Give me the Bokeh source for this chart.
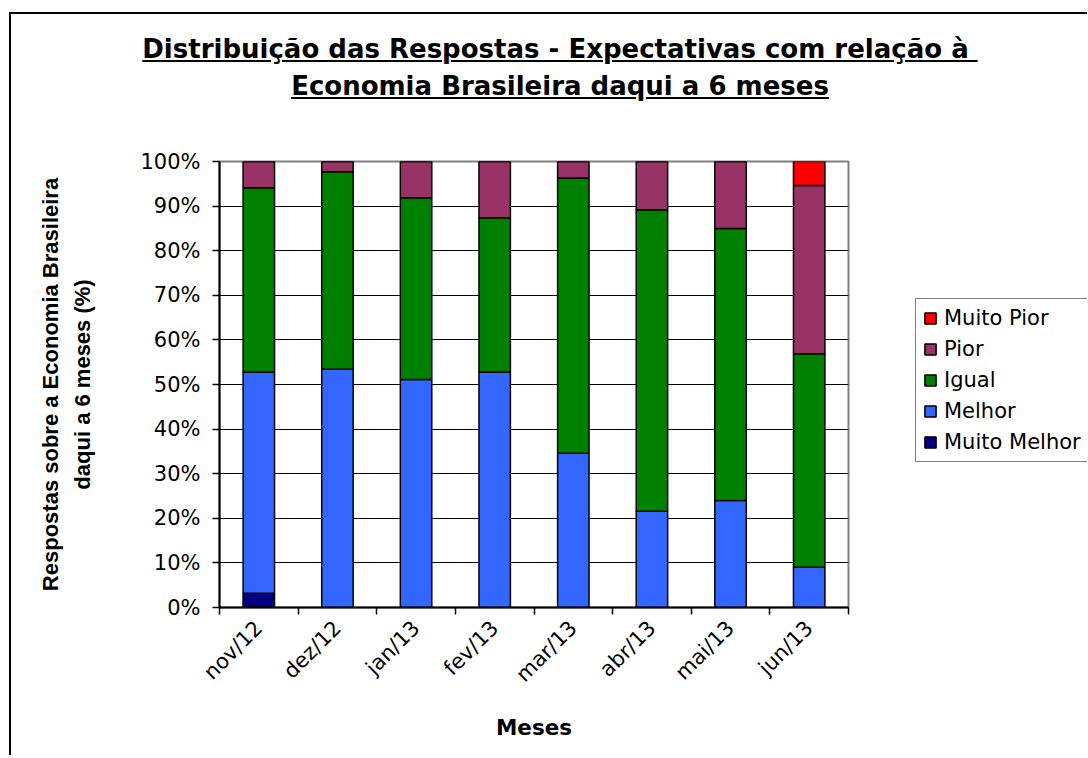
import math
from bokeh.plotting import figure
from bokeh.models import ColumnDataSource, FixedTicker, Legend, LegendItem, Range1d, Div
from bokeh.layouts import column, row
from bokeh.embed import file_html
from bokeh.resources import INLINE

# ---- data (percent of answers) ----
months = ["nov/12", "dez/12", "jan/13", "fev/13", "mar/13", "abr/13", "mai/13", "jun/13"]
muito_melhor = [3.2, 0, 0, 0, 0, 0, 0, 0]
melhor = [49.6, 53.4, 51.1, 52.8, 34.6, 21.6, 24.0, 9.0]
igual = [41.3, 44.3, 40.8, 34.6, 61.7, 67.6, 61.0, 47.9]
pior = [5.9, 2.3, 8.1, 12.6, 3.7, 10.8, 15.0, 37.7]
muito_pior = [0, 0, 0, 0, 0, 0, 0, 5.4]
series_names = ["Muito Melhor", "Melhor", "Igual", "Pior", "Muito Pior"]
series_keys = ["muito_melhor", "melhor", "igual", "pior", "muito_pior"]
colors = ["#000080", "#3366FF", "#008000", "#993366", "#FF0000"]
y_ticks = [0, 10, 20, 30, 40, 50, 60, 70, 80, 90, 100]
y_tick_labels = ["0%", "10%", "20%", "30%", "40%", "50%", "60%", "70%", "80%", "90%", "100%"]

title_lines = ["Distribuição das Respostas - Expectativas com relação à", "Economia Brasileira daqui a 6 meses"]
x_title = "Meses"
y_title = "Respostas sobre a Economia Brasileira\ndaqui a 6 meses (%)"

x_pos = [i + 0.5 for i in range(len(months))]
source = ColumnDataSource(dict(x=x_pos, muito_melhor=muito_melhor, melhor=melhor,
                               igual=igual, pior=pior, muito_pior=muito_pior))

W = 1076
FW, FH = 629, 446
BL, BR, BT, BB = 208, 3, 47, 148
p = figure(frame_width=FW, frame_height=FH, x_range=Range1d(0, len(months)), y_range=Range1d(0, 100),
           output_backend="svg", toolbar_location=None,
           min_border_left=BL, min_border_right=BR, min_border_top=BT, min_border_bottom=BB)
p.background_fill_color = "white"
p.border_fill_color = "white"
p.outline_line_color = "#808080"
p.outline_line_width = 2

renderers = p.vbar_stack(series_keys, x="x", width=0.4, source=source,
                         fill_color=colors, line_color="black", line_width=1.5)

# grid
p.xgrid.visible = False
p.ygrid.ticker = FixedTicker(ticks=y_ticks[1:-1])
p.ygrid.grid_line_color = "black"
p.ygrid.grid_line_width = 1

# y axis
ya = p.yaxis[0]
ya.ticker = FixedTicker(ticks=y_ticks)
ya.major_label_overrides = {t: l for t, l in zip(y_ticks, y_tick_labels)}
ya.axis_line_color = "black"
ya.axis_line_width = 2
ya.major_tick_out = 7
ya.major_tick_in = 0
ya.major_tick_line_width = 1.5
ya.minor_tick_out = 0
ya.minor_tick_in = 0
ya.major_label_standoff = 12
ya.major_label_text_font = "DejaVu Sans"
ya.major_label_text_font_size = "21px"
ya.major_label_text_color = "black"
ya.axis_label = y_title
ya.axis_label_text_font = "Liberation Sans"
ya.axis_label_text_font_style = "bold"
ya.axis_label_text_font_size = "22px"
ya.axis_label_text_color = "black"
ya.axis_label_text_line_height = 1.3
ya.axis_label_standoff = 42

# x axis
xa = p.xaxis[0]
xa.ticker = FixedTicker(ticks=x_pos, minor_ticks=list(range(len(months) + 1)))
xa.major_label_overrides = {x: m for x, m in zip(x_pos, months)}
xa.axis_line_color = "black"
xa.axis_line_width = 2
xa.major_tick_out = 0
xa.major_tick_in = 0
xa.minor_tick_out = 7
xa.minor_tick_in = 0
xa.minor_tick_line_color = "black"
xa.minor_tick_line_width = 1.5
xa.major_label_orientation = math.pi / 4
xa.major_label_standoff = 10
xa.major_label_text_font = "DejaVu Sans"
xa.major_label_text_font_size = "21px"
xa.major_label_text_color = "black"
xa.axis_label = x_title
xa.axis_label_text_font = "DejaVu Sans"
xa.axis_label_text_font_style = "bold"
xa.axis_label_text_font_size = "21.5px"
xa.axis_label_text_color = "black"
xa.axis_label_standoff = 17

# ---- legend panel: a companion figure holding the legend (same series, hidden glyphs) ----
LW = W - (BL + FW + BR)
q = figure(frame_width=LW, frame_height=FH, x_axis_type=None, y_axis_type=None,
           output_backend="svg", toolbar_location=None,
           min_border_left=0, min_border_right=0, min_border_top=BT, min_border_bottom=BB)
q.background_fill_color = "white"
q.border_fill_color = "white"
q.outline_line_color = None
q.grid.visible = False
legend_renderers = q.vbar_stack(series_keys, x="x", width=0.4, source=source,
                                fill_color=colors, line_color="black", line_width=1.5)
for r in legend_renderers:
    r.visible = False

items = [LegendItem(label=n, renderers=[r]) for n, r in reversed(list(zip(series_names, legend_renderers)))]
legend = Legend(items=items, location=(915 - (11 + BL + FW + BR), 145), orientation="vertical",
                label_text_font="DejaVu Sans", label_text_font_size="21px", label_text_color="black",
                glyph_width=14, glyph_height=14, label_height=21, spacing=7, padding=7,
                label_standoff=7, margin=0,
                border_line_color="black", border_line_width=1.5,
                background_fill_color="white", background_fill_alpha=1,
                inactive_fill_alpha=0)
q.add_layout(legend)

title_html = (
    '<div style="font-family:\'DejaVu Sans\';font-weight:bold;font-size:26px;'
    'line-height:37px;text-align:center;text-decoration:underline;color:black;'
    'padding-top:17px;padding-left:22px;white-space:nowrap;box-sizing:border-box;'
    'width:' + str(W) + 'px;">'
    + title_lines[0] + '&nbsp;<br>' + title_lines[1] + '</div>'
)
title_div = Div(text=title_html, width=W, height=100, margin=0)

layout = column(title_div, row(p, q, spacing=0), spacing=0, margin=(12, 0, 0, 9),
                styles={"border-left": "2px solid black", "border-top": "2px solid black",
                        "background-color": "white"})

open("out.html", "w").write(file_html(layout, INLINE))
